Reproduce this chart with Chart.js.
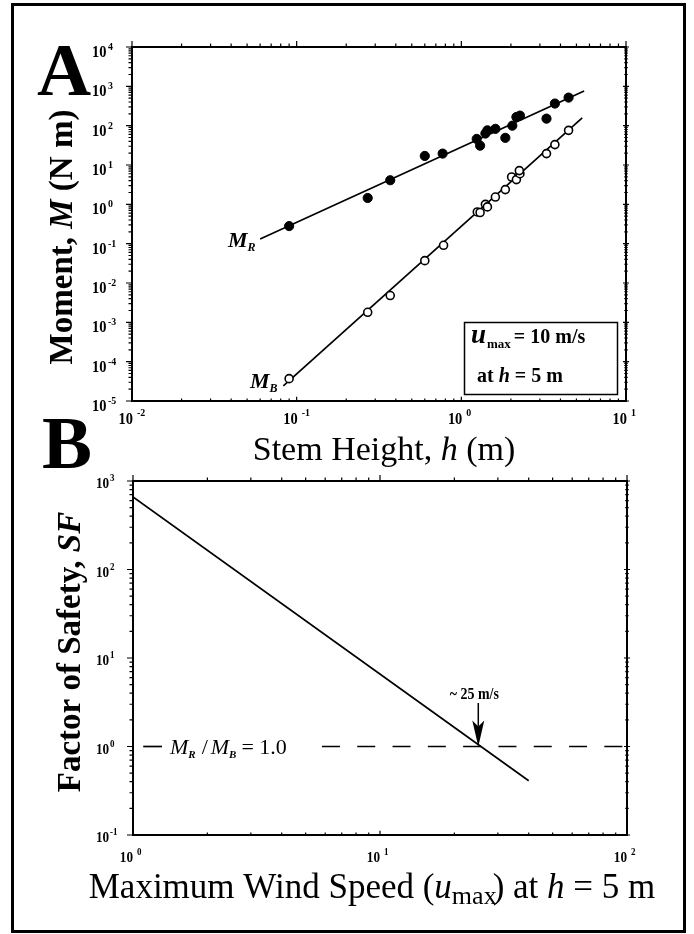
<!DOCTYPE html>
<html>
<head>
<meta charset="utf-8">
<script src="https://cdn.jsdelivr.net/npm/chart.js@4.4.0/dist/chart.umd.min.js"></script>
<style>
  html, body { margin: 0; padding: 0; background: #fff; }
  #wrap { position: relative; width: 694px; height: 934px; overflow: hidden; }
  #wrap canvas { position: absolute; left: 0; top: 0; }
  #frame { position: absolute; left: 11px; top: 3px; width: 669px; height: 924px; border: 3px solid #000; }
</style>
</head>
<body>
<div id="wrap">
  <div id="frame"></div>
  <canvas id="chartA" width="694" height="934"></canvas>
  <canvas id="chartB" width="694" height="934"></canvas>
</div>
<script>
// panel A: stem height (m) vs moment (N m)
const heightR = [0.09, 0.27, 0.37, 0.60, 0.77, 1.24, 1.30, 1.40, 1.44, 1.61, 1.85, 2.04, 2.16, 2.27, 3.29, 3.70, 4.48];
const momentR = [0.28, 1.45, 4.1, 17, 19.5, 46, 31, 63, 76, 83, 49, 100, 166, 180, 151, 365, 517];
const heightB = [0.09, 0.27, 0.37, 0.60, 0.78, 1.25, 1.30, 1.40, 1.44, 1.61, 1.85, 2.02, 2.16, 2.27, 2.25, 3.29, 3.70, 4.48];
const momentB = [3.7e-5, 1.8e-3, 4.8e-3, 0.037, 0.091, 0.64, 0.62, 1.0, 0.86, 1.53, 2.37, 4.95, 4.25, 6.0, 7.2, 19.5, 33, 76];
const fitRh = [0.06, 5.57], fitRm = [0.131, 764];
const fitBh = [0.083, 5.42], fitBm = [2.44e-5, 157];

// panel B: max wind speed (m/s) vs factor of safety
const windSpeed = [1, 40];
const safety = [660, 0.41];
const unityLeft = [1.1, 1.31];
const unityRight = [5.82, 100];
const critSpeed = 25;

const aXTicks = [0.01, 0.1, 1, 10];
const aYTicks = [1e-5, 1e-4, 1e-3, 1e-2, 1e-1, 1, 10, 100, 1000, 10000];
const bXTicks = [1, 10, 100];
const bYTicks = [0.1, 1, 10, 100, 1000];

const F = '"Liberation Serif", "Times New Roman", serif';

function pts(xs, ys) {
  return xs.map((v, i) => ({ x: v, y: ys[i] }));
}

// draw a list of text runs: [text, font, dy, sx, gapAfter]
function runs(ctx, x, y, list, align) {
  let w = 0;
  for (const r of list) {
    ctx.font = r[1];
    w += ctx.measureText(r[0]).width * (r[3] || 1) + (r[4] || 0);
  }
  let cx = align === 'center' ? x - w / 2 : align === 'right' ? x - w : x;
  ctx.textAlign = 'left';
  ctx.textBaseline = 'alphabetic';
  for (const r of list) {
    ctx.font = r[1];
    ctx.save();
    ctx.translate(cx, y + (r[2] || 0));
    ctx.scale(r[3] || 1, 1);
    ctx.fillText(r[0], 0, 0);
    ctx.restore();
    cx += ctx.measureText(r[0]).width * (r[3] || 1) + (r[4] || 0);
  }
  return w;
}

function minorTicks(min, max) {
  const out = [];
  for (let e = Math.round(Math.log10(min)); e < Math.round(Math.log10(max)); e++) {
    for (let k = 1; k < 10; k++) out.push({ v: k * Math.pow(10, e), major: k === 1 });
  }
  out.push({ v: max, major: true });
  return out;
}

function frame(chart) {
  const ctx = chart.ctx, a = chart.chartArea, xs = chart.scales.x, ys = chart.scales.y;
  ctx.strokeStyle = '#000';
  ctx.lineWidth = 2;
  ctx.strokeRect(a.left, a.top, a.right - a.left, a.bottom - a.top);
  ctx.lineWidth = 1.2;
  ctx.beginPath();
  for (const t of minorTicks(xs.min, xs.max)) {
    const p = xs.getPixelForValue(t.v), L = t.major ? 6 : 3.5;
    ctx.moveTo(p, a.bottom); ctx.lineTo(p, a.bottom - L * 0.7);
    ctx.moveTo(p, a.top); ctx.lineTo(p, a.top - L);
  }
  for (const t of minorTicks(ys.min, ys.max)) {
    const p = ys.getPixelForValue(t.v), L = t.major ? 6 : 3.5;
    ctx.moveTo(a.left, p); ctx.lineTo(a.left - L, p);
    ctx.moveTo(a.right - L / 2, p); ctx.lineTo(a.right + L / 2, p);
  }
  ctx.stroke();
}

function expOf(v) { return String(Math.round(Math.log10(v))); }

const panelA = {
  id: 'panelA',
  afterDatasetsDraw(chart) {
    const ctx = chart.ctx, xs = chart.scales.x, ys = chart.scales.y;
    ctx.save();
    frame(chart);
    ctx.fillStyle = '#000';
    const tf = 'bold 17px ' + F, sf = 'bold 11px ' + F;
    for (const v of aXTicks) {
      const p = xs.getPixelForValue(v);
      runs(ctx, p + 1, 424, [['10', tf, 0, 0.85]], 'right');
      runs(ctx, p + 5, 416, [[expOf(v), sf, 0, 0.9]]);
    }
    for (const v of aYTicks) {
      const p = ys.getPixelForValue(v);
      runs(ctx, 92, p + 10, [['10', tf, 0, 0.85]]);
      runs(ctx, 108, p + 3, [[expOf(v), sf, 0, 0.9]]);
    }
    // panel letter and axis titles
    runs(ctx, 37, 95, [['A', 'bold 75px ' + F]]);
    ctx.save();
    ctx.translate(72, 237);
    ctx.rotate(-Math.PI / 2);
    runs(ctx, 0, 0, [['Moment, ', 'bold 33px ' + F], ['M', 'italic bold 33px ' + F], [' (N m)', 'bold 33px ' + F]], 'center');
    ctx.restore();
    runs(ctx, 384, 460, [['Stem Height, ', '34px ' + F], ['h', 'italic 34px ' + F], [' (m)', '34px ' + F]], 'center');
    // series labels
    runs(ctx, 228, 247, [['M', 'italic bold 22px ' + F], ['R', 'italic bold 12px ' + F, 4]]);
    runs(ctx, 250, 388, [['M', 'italic bold 22px ' + F], ['B', 'italic bold 12px ' + F, 4]]);
    // condition box
    ctx.lineWidth = 1.5;
    ctx.strokeRect(464.5, 322.5, 153, 72);
    runs(ctx, 471, 343, [['u', 'italic bold 27px ' + F, 0, 1, 1], ['max', 'bold 13px ' + F, 5, 1, 3], ['= 10 m/s', 'bold 20px ' + F]]);
    runs(ctx, 477, 382, [['at ', 'bold 20px ' + F], ['h', 'italic bold 20px ' + F], [' = 5 m', 'bold 20px ' + F]]);
    ctx.restore();
  }
};

const panelB = {
  id: 'panelB',
  afterDatasetsDraw(chart) {
    const ctx = chart.ctx, xs = chart.scales.x, ys = chart.scales.y;
    ctx.save();
    frame(chart);
    ctx.fillStyle = '#000';
    ctx.strokeStyle = '#000';
    const tf = 'bold 15px ' + F, sf = 'bold 10px ' + F;
    for (const v of bXTicks) {
      const p = xs.getPixelForValue(v);
      runs(ctx, p, 862, [['10', tf, 0, 0.88]], 'right');
      runs(ctx, p + 4, 855, [[expOf(v), sf, 0, 0.9]]);
    }
    for (const v of bYTicks) {
      const p = ys.getPixelForValue(v);
      runs(ctx, 96, p + 7, [['10', tf, 0, 0.88]]);
      runs(ctx, 110, p, [[expOf(v), sf, 0, 0.9]]);
    }
    runs(ctx, 42, 468, [['B', 'bold 75px ' + F]]);
    ctx.save();
    ctx.translate(80, 652);
    ctx.rotate(-Math.PI / 2);
    runs(ctx, 0, 0, [['Factor of Safety, ', 'bold 33px ' + F], ['SF', 'italic bold 33px ' + F]], 'center');
    ctx.restore();
    runs(ctx, 372, 898, [
      ['Maximum Wind Speed (', '35px ' + F],
      ['u', 'italic 35px ' + F],
      ['max', '26px ' + F, 6, 1, -4],
      [') at ', '35px ' + F],
      ['h', 'italic 35px ' + F],
      [' = 5 m', '35px ' + F]
    ], 'center');
    // unity label
    const y1 = ys.getPixelForValue(1);
    runs(ctx, 170, y1 + 7, [
      ['M', 'italic 22px ' + F], ['R', 'italic bold 11px ' + F, 4, 1, 6],
      ['/', '22px ' + F, 0, 1, 3],
      ['M', 'italic 22px ' + F], ['B', 'italic bold 11px ' + F, 4, 1, 5],
      ['= ', '22px ' + F, 0, 1, 0], ['1.0', '22px ' + F]
    ]);
    // arrow to the crossing point
    const ax = xs.getPixelForValue(critSpeed);
    const top = ys.getPixelForValue(3.1);
    ctx.lineWidth = 1.5;
    ctx.beginPath();
    ctx.moveTo(ax, top);
    ctx.lineTo(ax, y1 - 20);
    ctx.stroke();
    ctx.beginPath();
    ctx.moveTo(ax, y1);
    ctx.lineTo(ax - 6, y1 - 26);
    ctx.lineTo(ax, y1 - 20);
    ctx.lineTo(ax + 6, y1 - 26);
    ctx.closePath();
    ctx.fill();
    runs(ctx, ax - 4, top - 4, [['~ 25 m/s', 'bold 17px ' + F, 0, 0.82]], 'center');
    ctx.restore();
  }
};

function logAxis(min, max) {
  return { type: 'logarithmic', min: min, max: max, display: false };
}

new Chart(document.getElementById('chartA'), {
  type: 'scatter',
  data: {
    datasets: [
      { data: pts(heightR, momentR), pointRadius: 4.6, pointBackgroundColor: '#000', pointBorderColor: '#000', pointBorderWidth: 1, order: 0 },
      { data: pts(heightB, momentB), pointRadius: 4, pointBackgroundColor: '#fff', pointBorderColor: '#000', pointBorderWidth: 1.6, order: 0 },
      { data: pts(fitRh, fitRm), showLine: true, pointRadius: 0, borderColor: '#000', borderWidth: 1.7, order: 1 },
      { data: pts(fitBh, fitBm), showLine: true, pointRadius: 0, borderColor: '#000', borderWidth: 1.7, order: 1 }
    ]
  },
  options: {
    responsive: false,
    animation: false,
    events: [],
    layout: { padding: { left: 132, top: 47, right: 68, bottom: 533 } },
    plugins: { legend: { display: false }, tooltip: { enabled: false } },
    scales: { x: logAxis(0.01, 10), y: logAxis(1e-5, 1e4) }
  },
  plugins: [panelA]
});

new Chart(document.getElementById('chartB'), {
  type: 'scatter',
  data: {
    datasets: [
      { data: pts(windSpeed, safety), showLine: true, pointRadius: 0, borderColor: '#000', borderWidth: 1.7 },
      { data: pts(unityLeft, [1, 1]), showLine: true, pointRadius: 0, borderColor: '#000', borderWidth: 1.7 },
      { data: pts(unityRight, [1, 1]), showLine: true, pointRadius: 0, borderColor: '#000', borderWidth: 1.7, borderDash: [18, 17.3] }
    ]
  },
  options: {
    responsive: false,
    animation: false,
    events: [],
    layout: { padding: { left: 133, top: 481, right: 67, bottom: 99 } },
    plugins: { legend: { display: false }, tooltip: { enabled: false } },
    scales: { x: logAxis(1, 100), y: logAxis(0.1, 1000) }
  },
  plugins: [panelB]
});
</script>
</body>
</html>
